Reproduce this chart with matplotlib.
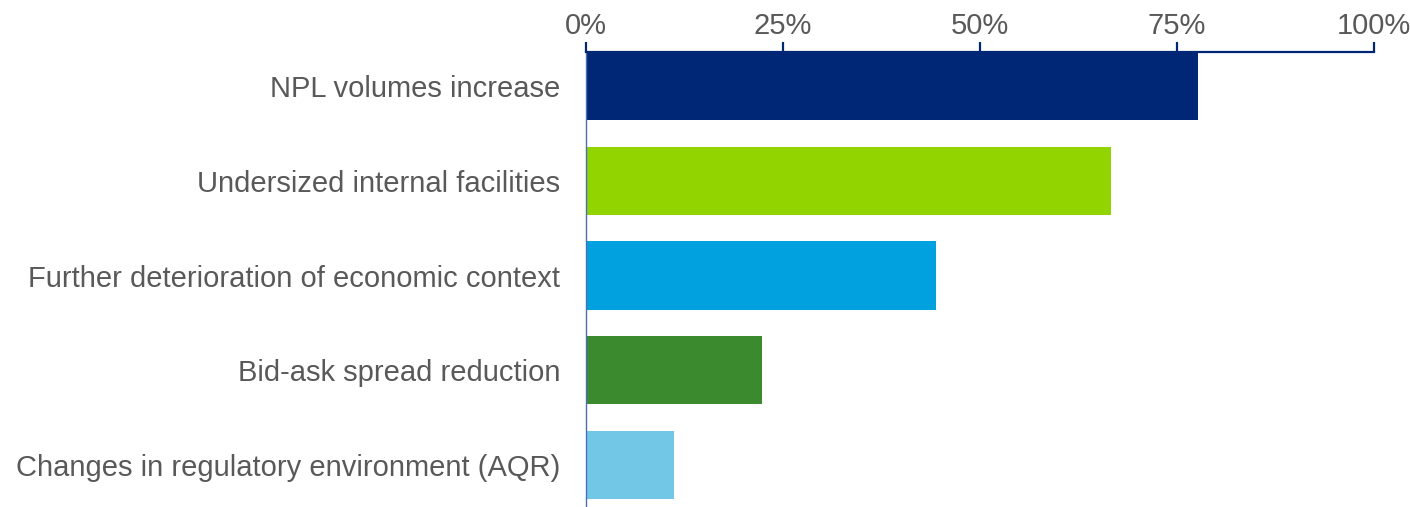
import matplotlib
matplotlib.use("Agg")
import matplotlib.pyplot as plt
from matplotlib.ticker import FuncFormatter

categories = [
    "NPL volumes increase",
    "Undersized internal facilities",
    "Further deterioration of economic context",
    "Bid-ask spread reduction",
    "Changes in regulatory environment (AQR)",
]
shares = [77.7, 66.6, 44.4, 22.3, 11.2]
bar_colors = ["#002776", "#92D400", "#00A1DE", "#3C8A2E", "#72C7E7"]
ticks = [0, 25, 50, 75, 100]

text_grey = "#595959"
navy = "#002776"

plt.rcParams["font.family"] = ["Liberation Sans", "DejaVu Sans"]

fig = plt.figure(figsize=(14.1, 5.07), dpi=100)
ax = fig.add_axes([0.4156, 0.0, 0.9745 - 0.4156, 0.8974])

ypos = list(range(len(categories)))
ax.barh(ypos, shares, height=0.72, color=bar_colors)

ax.set_xlim(0, 100)
ax.set_ylim(4.444, -0.36)
ax.set_yticks(ypos)
ax.set_yticklabels(categories)
ax.set_xticks(ticks)
ax.xaxis.set_major_formatter(FuncFormatter(lambda v, p: f"{v:.0f}%"))
ax.xaxis.tick_top()

ax.tick_params(axis="x", which="major", direction="out", length=7.5, width=1.6,
               color=navy, labelsize=21, labelcolor=text_grey, pad=1.5)
ax.tick_params(axis="y", length=0, labelsize=21, labelcolor=text_grey, pad=18.5)

for side in ("right", "bottom"):
    ax.spines[side].set_visible(False)
ax.spines["top"].set_color(navy)
ax.spines["top"].set_linewidth(1.6)
ax.spines["left"].set_color("#4A6DB5")
ax.spines["left"].set_linewidth(1.0)

fig.savefig("out.png", dpi=100)
